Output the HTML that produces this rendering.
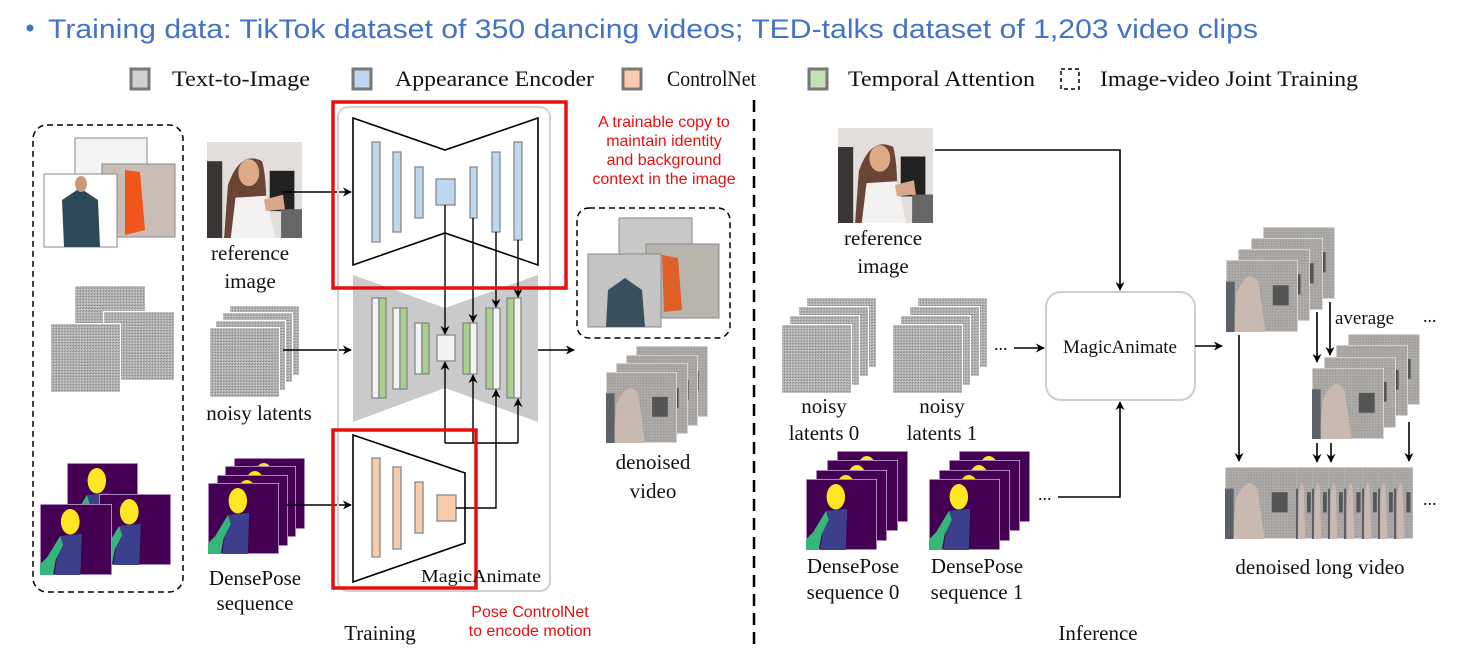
<!DOCTYPE html>
<html><head><meta charset="utf-8"><style>
html,body{margin:0;padding:0;background:#fff;width:1462px;height:657px;overflow:hidden}
svg{display:block}
.s{font-family:"Liberation Serif",serif;fill:#111}
.r{font-family:"Liberation Sans",sans-serif;fill:#e8100f}
</style></head><body>
<svg width="1462" height="657" viewBox="0 0 1462 657" xmlns="http://www.w3.org/2000/svg">
<defs>
<pattern id="np" width="4" height="4" patternUnits="userSpaceOnUse">
<rect width="4" height="4" fill="#b4b4b4"/><rect width="1" height="1" fill="#666"/><rect x="2" y="1" width="1" height="1" fill="#eee"/><rect x="1" y="3" width="1" height="1" fill="#777"/><rect x="3" y="2" width="1" height="1" fill="#e4e4e4"/><rect x="3" y="0" width="1" height="1" fill="#888"/>
</pattern>
<symbol id="noise" viewBox="0 0 100 100" preserveAspectRatio="none"><rect width="100" height="100" fill="url(#np)" stroke="#fff" stroke-width="3"/></symbol>
<symbol id="pose" viewBox="0 0 100 100" preserveAspectRatio="none"><rect width="100" height="100" fill="#440154" stroke="#d8b8e8" stroke-width="2"/><ellipse cx="42" cy="25" rx="13" ry="18" fill="#fde725"/><path d="M28 45 L58 42 L56 100 L20 100 Z" fill="#3b3f8c"/><path d="M28 45 L10 75 L0 85 L0 100 L18 100 L22 78 L32 58Z" fill="#35b779"/></symbol>
<symbol id="vid" viewBox="0 0 100 100" preserveAspectRatio="none"><rect width="100" height="100" fill="#a6a29e" stroke="#fff" stroke-width="2"/><rect width="100" height="100" fill="url(#np)" opacity=".35"/><rect x="65" y="35" width="22" height="28" fill="#555"/><path d="M10 100 L15 45 Q30 10 45 30 L55 100Z" fill="#c9b9b0"/><rect x="0" y="30" width="12" height="70" fill="#5c6068"/></symbol>
<symbol id="ref" viewBox="0 0 100 100" preserveAspectRatio="none"><rect width="100" height="100" fill="#e2dedc"/><rect x="0" y="20" width="16" height="80" fill="#3a3636"/><rect x="66" y="30" width="26" height="42" fill="#222"/><rect x="78" y="70" width="22" height="30" fill="#666"/><path d="M18 100 L22 45 Q35 8 58 20 Q64 40 62 100Z" fill="#6a4434"/><path d="M25 100 L30 58 L62 56 L72 100Z" fill="#f4f2f0"/><ellipse cx="44" cy="32" rx="11" ry="14" fill="#dcaa86"/><path d="M60 60 L80 55 L82 70 L62 72Z" fill="#d8a688"/></symbol>
<marker id="a" viewBox="0 0 10 10" refX="9" refY="5" markerWidth="9" markerHeight="9" orient="auto" markerUnits="userSpaceOnUse"><path d="M0 0 L10 5 L0 10 L3 5Z" fill="#000"/></marker>
</defs>

<circle cx="30" cy="28" r="3.5" fill="#4472c4"/>
<text x="48" y="38" font-family="Liberation Sans Narrow, Liberation Sans, sans-serif" font-size="27" fill="#4472c4" textLength="1210" lengthAdjust="spacingAndGlyphs">Training data: TikTok dataset of 350 dancing videos; TED-talks dataset of 1,203 video clips</text>

<g stroke="#777" stroke-width="3">
<rect x="131" y="69" width="18" height="20" fill="#d0d0d0"/>
<rect x="353" y="69" width="18" height="20" fill="#bdd7ee"/>
<rect x="623" y="69" width="18" height="20" fill="#f8cbad"/>
<rect x="809" y="69" width="18" height="20" fill="#c5e0b4"/>
</g>
<rect x="1061" y="69" width="18" height="20" fill="none" stroke="#000" stroke-width="1.5" stroke-dasharray="4 3"/>
<g class="s" font-size="22">
<text x="172" y="86" textLength="138" lengthAdjust="spacingAndGlyphs">Text-to-Image</text>
<text x="395" y="86" textLength="199" lengthAdjust="spacingAndGlyphs">Appearance Encoder</text>
<text x="667" y="86" textLength="89" lengthAdjust="spacingAndGlyphs">ControlNet</text>
<text x="848" y="86" textLength="187" lengthAdjust="spacingAndGlyphs">Temporal Attention</text>
<text x="1100" y="86" textLength="258" lengthAdjust="spacingAndGlyphs">Image-video Joint Training</text>
</g>

<rect x="33" y="125" width="150" height="467" rx="14" fill="none" stroke="#000" stroke-width="1.5" stroke-dasharray="6 4"/>
<rect x="75" y="138" width="72" height="40" fill="#f4f4f4" stroke="#888"/>
<rect x="102" y="164" width="73" height="73" fill="#c8beb4" stroke="#888"/>
<path d="M125 170 L140 172 L145 230 L125 235Z" fill="#f0561a"/>
<rect x="44" y="174" width="73" height="73" fill="#fff" stroke="#888"/>
<path d="M64 247 L62 200 L80 188 L98 200 L100 247Z" fill="#2e4a58"/>
<ellipse cx="81" cy="184" rx="6" ry="8" fill="#c89a7c"/>
<use href="#noise" x="74" y="285" width="72" height="72"/>
<use href="#noise" x="103" y="311" width="72" height="70"/>
<use href="#noise" x="50" y="323" width="71" height="70"/>
<use href="#pose" x="67" y="463" width="71" height="71"/>
<use href="#pose" x="99" y="494" width="72" height="71"/>
<use href="#pose" x="40" y="504" width="72" height="71"/>

<use href="#ref" x="207" y="142" width="95" height="96"/>
<text class="s" font-size="21" x="250" y="260" text-anchor="middle">reference</text>
<text class="s" font-size="21" x="250" y="288" text-anchor="middle">image</text>
<use href="#noise" x="229" y="305" width="71" height="71"/>
<use href="#noise" x="222" y="312" width="71" height="71"/>
<use href="#noise" x="215" y="320" width="71" height="71"/>
<use href="#noise" x="209" y="327" width="71" height="71"/>
<text class="s" font-size="21" x="259" y="420" text-anchor="middle">noisy latents</text>
<use href="#pose" x="234" y="458" width="71" height="71"/>
<use href="#pose" x="225" y="466" width="71" height="71"/>
<use href="#pose" x="217" y="475" width="71" height="71"/>
<use href="#pose" x="208" y="483" width="71" height="71"/>
<text class="s" font-size="21" x="255" y="585" text-anchor="middle">DensePose</text>
<text class="s" font-size="21" x="255" y="610" text-anchor="middle">sequence</text>
<g stroke="#000" stroke-width="1.6" fill="none" marker-end="url(#a)">
<line x1="283" y1="192" x2="351" y2="192"/>
<line x1="283" y1="350" x2="351" y2="350"/>
<line x1="283" y1="505" x2="351" y2="505"/>
</g>

<rect x="338" y="107" width="212" height="484" rx="10" fill="none" stroke="#d0d0d0" stroke-width="2"/>
<polygon points="353,118 445,150 538,118 538,265 445,233 353,265" fill="#fff" stroke="#000" stroke-width="1.6"/>
<g fill="#bdd7ee" stroke="#888" stroke-width="1.3">
<rect x="372" y="142" width="8" height="100"/><rect x="393" y="152" width="8" height="80"/><rect x="415" y="167" width="8" height="51"/><rect x="436" y="179" width="19" height="26"/><rect x="470" y="167" width="7" height="51"/><rect x="492" y="152" width="8" height="80"/><rect x="514" y="142" width="8" height="98"/>
</g>
<polygon points="353,275 445,308 538,275 538,422 445,388 353,422" fill="#cacaca"/>
<g stroke="#888" stroke-width="1.3">
<rect x="372" y="298" width="7" height="100" fill="#f2f2f2"/><rect x="379" y="298" width="7" height="100" fill="#a9d18e"/>
<rect x="393" y="308" width="7" height="81" fill="#f2f2f2"/><rect x="400" y="308" width="7" height="81" fill="#a9d18e"/>
<rect x="415" y="323" width="7" height="51" fill="#f2f2f2"/><rect x="422" y="323" width="7" height="51" fill="#a9d18e"/>
<rect x="437" y="335" width="18" height="26" fill="#f2f2f2"/>
<rect x="463" y="323" width="7" height="51" fill="#a9d18e"/><rect x="470" y="323" width="7" height="51" fill="#f2f2f2"/>
<rect x="486" y="308" width="7" height="81" fill="#a9d18e"/><rect x="493" y="308" width="7" height="81" fill="#f2f2f2"/>
<rect x="507" y="298" width="7" height="100" fill="#a9d18e"/><rect x="514" y="298" width="7" height="100" fill="#f2f2f2"/>
</g>
<polygon points="353,435 465,473 465,543 353,582" fill="#fff" stroke="#000" stroke-width="1.6"/>
<g fill="#f8cbad" stroke="#888" stroke-width="1.3">
<rect x="372" y="458" width="8" height="99"/><rect x="393" y="467" width="8" height="82"/><rect x="415" y="482" width="8" height="51"/><rect x="437" y="495" width="19" height="26"/>
</g>
<g stroke="#000" stroke-width="1.4" fill="none">
<line x1="445" y1="205" x2="445" y2="334" marker-end="url(#a)"/>
<line x1="473" y1="218" x2="473" y2="322" marker-end="url(#a)"/>
<line x1="496" y1="232" x2="496" y2="307" marker-end="url(#a)"/>
<line x1="518" y1="240" x2="518" y2="297" marker-end="url(#a)"/>
<polyline points="445,443 518,443"/>
<line x1="445" y1="443" x2="445" y2="362" marker-end="url(#a)"/>
<line x1="518" y1="443" x2="518" y2="399" marker-end="url(#a)"/>
<line x1="473" y1="443" x2="473" y2="375" marker-end="url(#a)"/>
<polyline points="456,508 496,508 496,390" marker-end="url(#a)"/>
</g>
<rect x="333" y="102" width="233" height="186" fill="none" stroke="#e8100f" stroke-width="3.5"/>
<rect x="333" y="430" width="143" height="158" fill="none" stroke="#e8100f" stroke-width="3.5"/>
<text class="s" font-size="18" x="421" y="582" textLength="120" lengthAdjust="spacingAndGlyphs">MagicAnimate</text>
<g class="r" font-size="16" text-anchor="middle">
<text x="664" y="127">A trainable copy to</text>
<text x="664" y="146">maintain identity</text>
<text x="664" y="165">and background</text>
<text x="664" y="184">context in the image</text>
<text x="530" y="617">Pose ControlNet</text>
<text x="530" y="636">to encode motion</text>
</g>
<line x1="538" y1="350" x2="574" y2="350" stroke="#000" stroke-width="1.6" marker-end="url(#a)"/>

<rect x="577" y="208" width="153" height="130" rx="12" fill="none" stroke="#000" stroke-width="1.5" stroke-dasharray="6 4"/>
<rect x="619" y="218" width="73" height="40" fill="#c8c8c8" stroke="#888"/>
<rect x="646" y="244" width="73" height="74" fill="#b8b4ae" stroke="#888"/>
<path d="M662 255 L678 258 L682 310 L664 312Z" fill="#e0602a"/>
<rect x="588" y="254" width="73" height="73" fill="#c4c4c4" stroke="#888"/>
<path d="M606 327 L608 290 L625 278 L642 290 L645 327Z" fill="#39505c"/>
<use href="#vid" x="636" y="346" width="72" height="71"/>
<use href="#vid" x="626" y="355" width="72" height="71"/>
<use href="#vid" x="616" y="363" width="72" height="71"/>
<use href="#vid" x="606" y="372" width="71" height="71"/>
<text class="s" font-size="21" x="653" y="469" text-anchor="middle">denoised</text>
<text class="s" font-size="21" x="653" y="498" text-anchor="middle">video</text>
<text class="s" font-size="21" x="380" y="640" text-anchor="middle">Training</text>

<line x1="754" y1="100" x2="754" y2="645" stroke="#000" stroke-width="2.5" stroke-dasharray="12 7"/>

<use href="#ref" x="838" y="128" width="95" height="95"/>
<text class="s" font-size="21" x="883" y="245" text-anchor="middle">reference</text>
<text class="s" font-size="21" x="883" y="273" text-anchor="middle">image</text>
<use href="#noise" x="806" y="297" width="71" height="71"/>
<use href="#noise" x="798" y="306" width="71" height="71"/>
<use href="#noise" x="789" y="315" width="71" height="71"/>
<use href="#noise" x="781" y="324" width="71" height="70"/>
<use href="#noise" x="917" y="297" width="71" height="71"/>
<use href="#noise" x="909" y="306" width="71" height="71"/>
<use href="#noise" x="900" y="315" width="71" height="71"/>
<use href="#noise" x="892" y="324" width="71" height="70"/>
<g class="s" font-size="21" text-anchor="middle">
<text x="824" y="413">noisy</text><text x="824" y="440">latents 0</text>
<text x="942" y="413">noisy</text><text x="942" y="440">latents 1</text>
<text x="853" y="573">DensePose</text><text x="853" y="599">sequence 0</text>
<text x="977" y="573">DensePose</text><text x="977" y="599">sequence 1</text>
<text x="1098" y="640">Inference</text>
<text x="1320" y="574">denoised long video</text>
</g>
<use href="#pose" x="837" y="451" width="71" height="71"/>
<use href="#pose" x="827" y="460" width="71" height="71"/>
<use href="#pose" x="816" y="470" width="71" height="71"/>
<use href="#pose" x="806" y="479" width="71" height="71"/>
<use href="#pose" x="959" y="451" width="71" height="71"/>
<use href="#pose" x="949" y="460" width="71" height="71"/>
<use href="#pose" x="939" y="470" width="71" height="71"/>
<use href="#pose" x="929" y="479" width="71" height="71"/>
<g class="s" font-size="18">
<text x="994" y="350">...</text>
<text x="1038" y="500">...</text>
<text x="1423" y="322">...</text>
<text x="1423" y="505">...</text>
</g>
<rect x="1046" y="292" width="149" height="108" rx="15" fill="#fff" stroke="#cfcfcf" stroke-width="2"/>
<text class="s" font-size="19" x="1120" y="353" text-anchor="middle">MagicAnimate</text>
<g stroke="#000" stroke-width="1.6" fill="none">
<polyline points="935,150 1120,150 1120,290" marker-end="url(#a)"/>
<line x1="1014" y1="348" x2="1044" y2="348" marker-end="url(#a)"/>
<polyline points="1058,497 1120,497 1120,402" marker-end="url(#a)"/>
<line x1="1195" y1="346" x2="1222" y2="346" marker-end="url(#a)"/>
</g>
<use href="#vid" x="1263" y="227" width="72" height="72"/>
<use href="#vid" x="1251" y="238" width="72" height="72"/>
<use href="#vid" x="1238" y="249" width="72" height="72"/>
<use href="#vid" x="1226" y="260" width="72" height="72"/>
<use href="#vid" x="1348" y="334" width="72" height="71"/>
<use href="#vid" x="1336" y="345" width="72" height="71"/>
<use href="#vid" x="1324" y="357" width="72" height="71"/>
<use href="#vid" x="1312" y="368" width="72" height="71"/>
<use href="#vid" x="1225" y="467" width="72" height="72"/>
<g>
<use href="#vid" x="1296" y="467" width="17" height="72"/><use href="#vid" x="1312" y="467" width="17" height="72"/><use href="#vid" x="1328" y="467" width="17" height="72"/><use href="#vid" x="1344" y="467" width="19" height="72"/><use href="#vid" x="1362" y="467" width="17" height="72"/><use href="#vid" x="1378" y="467" width="17" height="72"/><use href="#vid" x="1394" y="467" width="19" height="72"/>
</g>
<g stroke="#000" stroke-width="1.6" fill="none" marker-end="url(#a)">
<line x1="1239" y1="335" x2="1239" y2="461"/>
<line x1="1317" y1="312" x2="1317" y2="362"/>
<line x1="1330" y1="302" x2="1330" y2="355"/>
<line x1="1317" y1="443" x2="1317" y2="462"/>
<line x1="1331" y1="443" x2="1331" y2="462"/>
<line x1="1409" y1="422" x2="1409" y2="461"/>
</g>
<text class="s" font-size="19" x="1335" y="324">average</text>
</svg>
</body></html>
